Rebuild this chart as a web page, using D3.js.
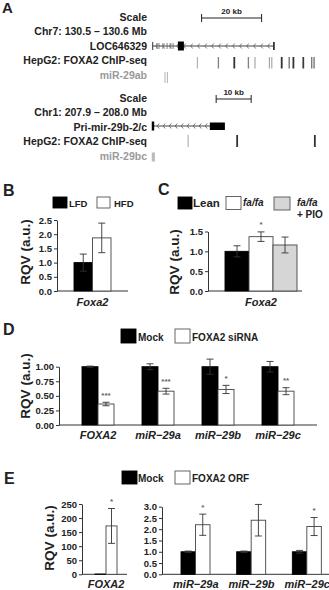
<!DOCTYPE html>
<html>
<head>
<meta charset="utf-8">
<script src="https://d3js.org/d3.v7.min.js"></script>
<style>
  body { margin: 0; background: #fff; }
  svg text { font-family: "Liberation Sans", Arial, sans-serif; font-weight: bold; }
</style>
</head>
<body>
<div id="fig"></div>
<script>
// ---------- panel A: genome browser tracks (positions in kb from window start) ----------
var track1Labels = ["Scale", "Chr7: 130.5 \u2013 130.6 Mb", "LOC646329", "HepG2: FOXA2 ChIP-seq", "miR-29ab"];
var track2Labels = ["Scale", "Chr1: 207.9 \u2013 208.0 Mb", "Pri-mir-29b-2/c", "HepG2: FOXA2 ChIP-seq", "miR-29bc"];
var scale1 = [17.2, 37.2];          // 20 kb
var scale2 = [18.9, 28.9];          // 10 kb
var gene1Span = [0.9, 41.3];
var gene1Exons = [2.3, 3, 4.3, 5.7, 6.7, 7.7];
var gene1Box = [9.3, 11.3];
var chip1Peaks = [15.8, 22.8, 28.1, 32.8, 35, 39.8, 40.6, 43.9, 46.4, 47.8, 51.1, 53.9, 54.7];
var chip1Signal = [0.2, 0.45, 0.9, 0.45, 0.25, 0.25, 0.25, 0.9, 0.5, 0.9, 0.85, 0.5, 0.5];
var mir1Marks = [5, 5.8];
var gene2Span = [0.6, 17.1];
var gene2Start = [0.5, 1.2];
var gene2Box = [17.1, 21.4];
var chip2Peaks = [10.9, 24.9, 47.1];
var chip2Signal = [0.2, 0.9, 0.9];
var mir2Span = [0.5, 1.4];

// ---------- panel B ----------
var bGroups = ["LFD", "HFD"];
var bValues = [1.0, 1.87];
var bErrors = [0.3, 0.52];
var bTicks = [0, 0.5, 1.0, 1.5, 2.0, 2.5];

// ---------- panel C ----------
var cGroups = ["Lean", "fa/fa", "fa/fa + PIO"];
var cValues = [1.0, 1.37, 1.16];
var cErrors = [0.14, 0.12, 0.2];
var cStars = ["", "*", ""];
var cTicks = [0, 0.5, 1.0, 1.5];

// ---------- panel D ----------
var dGenes = ["FOXA2", "miR\u221229a", "miR\u221229b", "miR\u221229c"];
var dMock = [1.0, 1.0, 1.0, 1.0];
var dMockErr = [0.01, 0.05, 0.13, 0.09];
var dSiRNA = [0.36, 0.58, 0.61, 0.58];
var dSiRNAErr = [0.03, 0.05, 0.07, 0.06];
var dStars = ["***", "***", "*", "**"];
var dTicks = [0, 0.25, 0.5, 0.75, 1.0];

// ---------- panel E ----------
var eFoxGenes = ["FOXA2"];
var eFoxMock = [1];
var eFoxOrf = [172];
var eFoxOrfErr = [62];
var eFoxStars = ["*"];
var eFoxTicks = [0, 50, 100, 150, 200, 250];
var eMirGenes = ["miR\u221229a", "miR\u221229b", "miR\u221229c"];
var eMirMock = [1.0, 1.0, 1.0];
var eMirMockErr = [0.03, 0.03, 0.06];
var eMirOrf = [2.2, 2.4, 2.12];
var eMirOrfErr = [0.47, 0.7, 0.4];
var eMirStars = ["*", "", "*"];
var eMirTicks = [0, 0.5, 1.0, 1.5, 2.0, 2.5, 3.0];

var ink = "#222";
var svg = d3.select("#fig").append("svg")
  .attr("width", 329)
  .attr("height", 590);

function txt(x, y, s, size, anchor) {
  return svg.append("text").attr("x", x).attr("y", y)
    .attr("font-size", size).attr("text-anchor", anchor || "start")
    .attr("fill", ink).text(s);
}

// panel letters
txt(2, 13, "A", 15);
txt(3, 196, "B", 16);
txt(158, 195, "C", 16);
txt(3, 335, "D", 16);
txt(4, 484, "E", 16);

// ---------- panel A drawing ----------
var chipColor = d3.scaleLinear().domain([0, 1]).range(["#d0d0d0", "#222"]);

function track(labels, base, kbScale, scaleKb, scaleBar) {
  labels.forEach(function(l, i) {
    txt(147, base + i * 14.6, l, 10.5, "end").attr("fill", i == 4 ? "#9a9a9a" : ink);
  });
  var sy = base - 2.5;
  var x1 = kbScale(scaleBar[0]), x2 = kbScale(scaleBar[1]);
  svg.append("path")
    .attr("d", `M${x1},${sy - 4}V${sy + 4}M${x1},${sy}H${x2}M${x2},${sy - 4}V${sy + 4}`)
    .attr("stroke", ink).attr("fill", "none");
  txt((x1 + x2) / 2, sy - 4, scaleKb + " kb", 8, "middle");
}

function chevrons(x1, x2, y, step) {
  var d = "";
  for (var x = x1 + 3; x < x2 - 2; x += step) {
    d += `M${x + 2},${y - 2.5}L${x},${y}L${x + 2},${y + 2.5}`;
  }
  svg.append("path").attr("d", d).attr("stroke", "#555").attr("fill", "none").attr("stroke-width", 0.8);
}

// track 1
var k1 = d3.scaleLinear().domain([0, 60]).range([150, 330]);
track(track1Labels, 20.5, k1, 20, scale1);
var g1y = 46;
svg.append("line").attr("x1", k1(gene1Span[0])).attr("x2", k1(gene1Span[1]))
  .attr("y1", g1y).attr("y2", g1y).attr("stroke", "#444");
chevrons(k1(gene1Span[0]), k1(gene1Span[1]), g1y, 7);
svg.selectAll(".ex1").data(gene1Exons).enter().append("line")
  .attr("x1", d => k1(d)).attr("x2", d => k1(d))
  .attr("y1", g1y - 3).attr("y2", g1y + 3).attr("stroke", "#666").attr("stroke-width", 0.8);
[gene1Span[0], gene1Span[1]].forEach(function(d, i) {
  svg.append("line").attr("x1", k1(d)).attr("x2", k1(d)).attr("y1", g1y - 4).attr("y2", g1y + 4)
    .attr("stroke", "#333").attr("stroke-width", i ? 1.8 : 1);
});
svg.append("rect").attr("x", k1(gene1Box[0])).attr("y", g1y - 4.5)
  .attr("width", k1(gene1Box[1]) - k1(gene1Box[0])).attr("height", 9).attr("fill", "#000");
svg.selectAll(".chip1").data(chip1Peaks).enter().append("line")
  .attr("x1", d => k1(d)).attr("x2", d => k1(d))
  .attr("y1", 57).attr("y2", 68.5)
  .attr("stroke", (d, i) => chipColor(chip1Signal[i]))
  .attr("stroke-width", (d, i) => 0.9 + chip1Signal[i]);
svg.selectAll(".mir1").data(mir1Marks).enter().append("line")
  .attr("x1", d => k1(d)).attr("x2", d => k1(d))
  .attr("y1", 72).attr("y2", 83).attr("stroke", "#aaa").attr("stroke-width", 0.9);

// track 2
var k2 = d3.scaleLinear().domain([0, 50]).range([150, 325]);
track(track2Labels, 101.5, k2, 10, scale2);
var g2y = 126;
svg.append("line").attr("x1", k2(gene2Span[0])).attr("x2", k2(gene2Span[1]))
  .attr("y1", g2y).attr("y2", g2y).attr("stroke", "#444");
chevrons(k2(gene2Start[1]), k2(gene2Span[1]), g2y, 6);
svg.append("rect").attr("x", k2(gene2Start[0])).attr("y", g2y - 4.5)
  .attr("width", k2(gene2Start[1]) - k2(gene2Start[0])).attr("height", 9).attr("fill", "#000");
svg.append("rect").attr("x", k2(gene2Box[0])).attr("y", g2y - 3.5)
  .attr("width", k2(gene2Box[1]) - k2(gene2Box[0])).attr("height", 7.5).attr("fill", "#000");
svg.selectAll(".chip2").data(chip2Peaks).enter().append("line")
  .attr("x1", d => k2(d)).attr("x2", d => k2(d))
  .attr("y1", 135).attr("y2", 147)
  .attr("stroke", (d, i) => chipColor(chip2Signal[i]))
  .attr("stroke-width", (d, i) => 0.9 + chip2Signal[i]);
svg.append("rect").attr("x", k2(mir2Span[0])).attr("y", 152.5)
  .attr("width", k2(mir2Span[1]) - k2(mir2Span[0])).attr("height", 9).attr("fill", "#bbb");

// ---------- bar chart helpers ----------
function yAxis(x0, y, ticks, fmt) {
  var ax = svg.append("g").attr("transform", `translate(${x0},0)`)
    .call(d3.axisLeft(y).tickValues(ticks).tickFormat(d3.format(fmt))
      .tickSize(3).tickSizeOuter(0).tickPadding(2));
  ax.select(".domain").attr("stroke", "#333");
  ax.selectAll(".tick line").attr("stroke", "#333");
  ax.selectAll("text").attr("font-size", 9.5).attr("fill", ink);
}

function xLine(x1, x2, y0) {
  svg.append("line").attr("x1", x1).attr("x2", x2).attr("y1", y0).attr("y2", y0)
    .attr("stroke", "#333");
}

function yLabel(x, y) {
  svg.append("text").attr("transform", `translate(${x},${y}) rotate(-90)`)
    .attr("text-anchor", "middle").attr("font-size", 13.5).attr("fill", ink)
    .text("RQV (a.u.)");
}

function xLabel(x, y, s) {
  txt(x, y, s, 11, "middle").attr("font-style", "italic");
}

function barSet(xs, w, vals, errs, stars, y, fill) {
  vals.forEach(function(v, i) {
    var x = xs[i];
    svg.append("rect").attr("x", x).attr("y", y(v))
      .attr("width", w).attr("height", y(0) - y(v))
      .attr("fill", fill).attr("stroke", fill == "#000" ? "#000" : "#444").attr("stroke-width", 0.9);
    if (errs) {
      var cx = x + w / 2, t = y(v + errs[i]), b = y(Math.max(0, v - errs[i]));
      svg.append("path")
        .attr("d", `M${cx - 3.5},${t}H${cx + 3.5}M${cx},${t}V${b}M${cx - 3.5},${b}H${cx + 3.5}`)
        .attr("stroke", "#333").attr("fill", "none").attr("stroke-width", 0.9);
      if (stars && stars[i]) {
        svg.append("text").attr("x", cx).attr("y", t - 4.5).attr("text-anchor", "middle")
          .attr("font-size", 8).attr("fill", "#666").text(stars[i]);
      }
    }
  });
}

function legendBox(x, y, w, h, fill) {
  svg.append("rect").attr("x", x).attr("y", y).attr("width", w).attr("height", h)
    .attr("fill", fill).attr("stroke", fill == "#000" ? "#000" : "#555").attr("stroke-width", 0.9);
}

// ---------- panel B ----------
var bY = d3.scaleLinear().domain([0, 2.5]).range([291, 220]);
var bX = d3.scaleBand().domain(bGroups).range([74, 111]);
legendBox(53, 197, 14, 11, "#000");
txt(69, 206.5, "LFD", 9.5);
legendBox(97, 197, 13, 11, "#fff");
txt(114, 206.5, "HFD", 9.5);
yAxis(57, bY, bTicks, ".1f");
xLine(57, 128, 291);
bGroups.forEach(function(g, i) {
  barSet([bX(g)], bX.bandwidth(), [bValues[i]], [bErrors[i]], null, bY, i ? "#fff" : "#000");
});
xLabel(92.5, 306, "Foxa2");
yLabel(30, 252);

// ---------- panel C ----------
var cY = d3.scaleLinear().domain([0, 1.5]).range([291, 231.5]);
var cX = d3.scaleBand().domain(cGroups).range([225, 297]);
var cFill = ["#000", "#fff", "#d6d6d6"];
legendBox(178, 197, 14, 12, "#000");
txt(193, 207, "Lean", 11.5);
legendBox(226, 196.5, 15, 13, "#fff");
txt(243, 206, "fa/fa", 10).attr("font-style", "italic");
legendBox(274, 197, 16, 13, "#d6d6d6");
txt(297, 206, "fa/fa", 10).attr("font-style", "italic");
txt(297, 218, "+ PIO", 10);
yAxis(208, cY, cTicks, ".1f");
xLine(208, 302, 291);
cGroups.forEach(function(g, i) {
  barSet([cX(g)], cX.bandwidth(), [cValues[i]], [cErrors[i]], [cStars[i]], cY, cFill[i]);
});
xLabel(261, 306, "Foxa2");
yLabel(179, 262);

// ---------- panel D ----------
var dY = d3.scaleLinear().domain([0, 1]).range([425, 366.7]);
var dX = d3.scaleBand().domain(dGenes).range([68, 308]);
var dSub = d3.scaleBand().domain(["mock", "sirna"]).range([14, 46]);
legendBox(121, 329, 15, 14, "#000");
txt(138, 341, "Mock", 10);
legendBox(175, 329, 15, 14, "#fff");
txt(192, 341, "FOXA2 siRNA", 10);
yAxis(59, dY, dTicks, ".2f");
xLine(59, 317, 425);
barSet(dGenes.map(g => dX(g) + dSub("mock")), dSub.bandwidth(), dMock, dMockErr, null, dY, "#000");
barSet(dGenes.map(g => dX(g) + dSub("sirna")), dSub.bandwidth(), dSiRNA, dSiRNAErr, dStars, dY, "#fff");
dGenes.forEach(g => xLabel(dX(g) + dX.bandwidth() / 2, 439, g));
yLabel(30, 386);

// ---------- panel E ----------
legendBox(122, 471, 15, 13, "#000");
txt(138, 482, "Mock", 10);
legendBox(175, 471, 15, 13, "#fff");
txt(192, 482, "FOXA2 ORF", 10);

var eY1 = d3.scaleLinear().domain([0, 250]).range([574.3, 504]);
var eX1 = d3.scaleBand().domain(["mock", "orf"]).range([95, 117]);
yAxis(82, eY1, eFoxTicks, "d");
xLine(82, 127, 574.3);
barSet([eX1("mock")], eX1.bandwidth(), eFoxMock, null, null, eY1, "#000");
barSet([eX1("orf")], eX1.bandwidth(), eFoxOrf, eFoxOrfErr, eFoxStars, eY1, "#fff");
xLabel(106, 588, eFoxGenes[0]);
yLabel(54, 538);

var eY2 = d3.scaleLinear().domain([0, 3]).range([574.3, 506.7]);
var eX2 = d3.scaleBand().domain(eMirGenes).range([168, 335]);
var eSub = d3.scaleBand().domain(["mock", "orf"]).range([13, 42]);
yAxis(162, eY2, eMirTicks, ".1f");
xLine(162, 335, 574.3);
barSet(eMirGenes.map(g => eX2(g) + eSub("mock")), eSub.bandwidth(), eMirMock, eMirMockErr, null, eY2, "#000");
barSet(eMirGenes.map(g => eX2(g) + eSub("orf")), eSub.bandwidth(), eMirOrf, eMirOrfErr, eMirStars, eY2, "#fff");
eMirGenes.forEach(g => xLabel(eX2(g) + eX2.bandwidth() / 2, 588, g));
</script>
</body>
</html>
